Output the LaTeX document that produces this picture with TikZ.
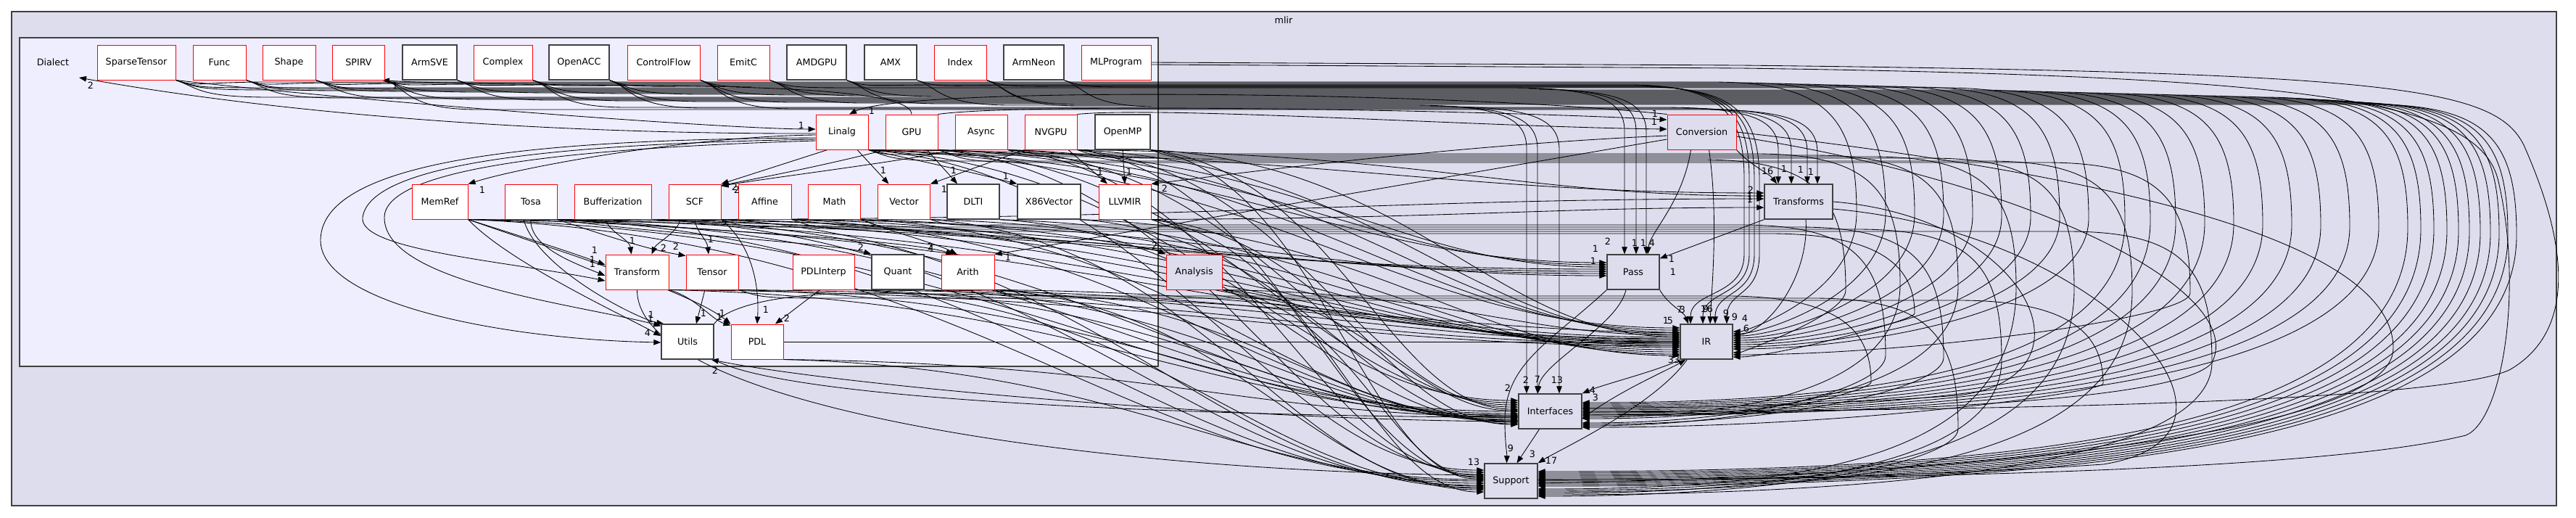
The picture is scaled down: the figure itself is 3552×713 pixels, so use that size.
\documentclass[tikz,border=0pt]{standalone}
\usepackage{fontspec}
\setmainfont{DejaVu Sans}
\usetikzlibrary{arrows.meta}
\definecolor{outerfill}{HTML}{DDDDEE}
\definecolor{innerfill}{HTML}{EEEEFF}
\definecolor{clline}{HTML}{404040}
\newcommand\dxfont{\fontsize{12.7}{15}\selectfont}
\pgfdeclarelayer{bglayer}
\pgfdeclarelayer{edgelayer}
\pgfsetlayers{bglayer,edgelayer,main}
\begin{document}
\begin{tikzpicture}[x=1pt,y=-1pt,
 cluster/.style={draw=clline, line width=1.4pt, inner sep=0pt},
 box/.style={draw, line width=1.4pt, minimum height=48pt, inner sep=0pt, fill=white, font=\dxfont},
 rbox/.style={box, draw=red, line width=1pt},
 kbox/.style={box, draw=clline},
 lav/.style={fill=outerfill},
 e/.style={draw=black, line width=0.85pt, -{Triangle[length=10pt,width=7.5pt]}},
 lab/.style={font=\dxfont, inner sep=0pt},
]
\useasboundingbox (0,0) rectangle (3552,713);
\begin{pgfonlayer}{bglayer}
\fill[white] (0,0) rectangle (3552,713);
\node[cluster, fill=outerfill, minimum width=3509pt, minimum height=681pt] (mlirc) at (1770.5,356.5) {};
\node[cluster, fill=innerfill, minimum width=1570pt, minimum height=453pt] (dialc) at (812,278.5) {};
\end{pgfonlayer}
\node[lab] (mlirlabel) at (1770,28) {mlir};
\node[lab] (dialectlabel) at (73,86) {Dialect};
\coordinate (dialectin) at (109,107);
% row 1
\node[rbox, minimum width=108pt] (SparseTensor) at (188,86) {SparseTensor};
\node[rbox, minimum width=73pt] (Func) at (302.5,86) {Func};
\node[rbox, minimum width=73pt] (Shape) at (398.5,86) {Shape};
\node[rbox, minimum width=72pt] (SPIRV) at (494.5,86) {SPIRV};
\node[kbox, minimum width=75pt] (ArmSVE) at (592.5,86) {ArmSVE};
\node[rbox, minimum width=81pt] (Complex) at (693.5,86) {Complex};
\node[kbox, minimum width=83pt] (OpenACC) at (798.5,86) {OpenACC};
\node[rbox, minimum width=100pt] (ControlFlow) at (915,86) {ControlFlow};
\node[rbox, minimum width=72pt] (EmitC) at (1025,86) {EmitC};
\node[kbox, minimum width=82pt] (AMDGPU) at (1126,86) {AMDGPU};
\node[kbox, minimum width=72pt] (AMX) at (1228,86) {AMX};
\node[rbox, minimum width=72pt] (Index) at (1324,86) {Index};
\node[kbox, minimum width=83pt] (ArmNeon) at (1425.5,86) {ArmNeon};
\node[rbox, minimum width=96pt] (MLProgram) at (1539,86) {MLProgram};
% row 2
\node[rbox, minimum width=72pt] (Linalg) at (1161,182) {Linalg};
\node[rbox, minimum width=72pt] (GPU) at (1257,182) {GPU};
\node[rbox, minimum width=72pt] (Async) at (1353,182) {Async};
\node[rbox, minimum width=72pt] (NVGPU) at (1449,182) {NVGPU};
\node[kbox, minimum width=76pt] (OpenMP) at (1548,182) {OpenMP};
\node[rbox, lav, minimum width=95pt] (Conversion) at (2346.5,182) {Conversion};
% row 3
\node[rbox, minimum width=77pt] (MemRef) at (606.5,278) {MemRef};
\node[rbox, minimum width=72pt] (Tosa) at (732,278) {Tosa};
\node[rbox, minimum width=106pt] (Bufferization) at (845,278) {Bufferization};
\node[rbox, minimum width=72pt] (SCF) at (958,278) {SCF};
\node[rbox, minimum width=73pt] (Affine) at (1054.5,278) {Affine};
\node[rbox, minimum width=72pt] (Math) at (1150.5,278) {Math};
\node[rbox, minimum width=72pt] (Vector) at (1246.5,278) {Vector};
\node[kbox, minimum width=72pt] (DLTI) at (1342,278) {DLTI};
\node[kbox, minimum width=87pt] (X86Vector) at (1446.5,278) {X86Vector};
\node[rbox, minimum width=72pt] (LLVMIR) at (1551,278) {LLVMIR};
\node[kbox, lav, minimum width=94pt] (Transforms) at (2480,278) {Transforms};
% row 4
\node[rbox, minimum width=87pt] (Transform) at (878.5,375) {Transform};
\node[rbox, minimum width=72pt] (Tensor) at (982,375) {Tensor};
\node[rbox, minimum width=85pt] (PDLInterp) at (1135.5,375) {PDLInterp};
\node[kbox, minimum width=72pt] (Quant) at (1238,375) {Quant};
\node[rbox, minimum width=73pt] (Arith) at (1334.5,375) {Arith};
\node[rbox, lav, minimum width=77pt] (Analysis) at (1646.5,375) {Analysis};
\node[kbox, lav, minimum width=72pt] (Pass) at (2252,375) {Pass};
% row 5
\node[kbox, minimum width=72pt] (Utils) at (948,471) {Utils};
\node[rbox, minimum width=72pt] (PDL) at (1044,471) {PDL};
\node[kbox, lav, minimum width=72pt] (IR) at (2353,471) {IR};
\node[kbox, lav, minimum width=87pt] (Interfaces) at (2137.5,567) {Interfaces};
\node[kbox, lav, minimum width=73pt] (Support) at (2083.5,663) {Support};

\begin{pgfonlayer}{edgelayer}
% row-1 (and mid bundles) to right sides
\foreach \S/\sr/\yb/\X/\T/\cy/\ty in {
SparseTensor/242/113/2560/IR/471/457, Func/339/114/2600/IR/471/460, Shape/435/115/2640/IR/471/463,
SPIRV/530/116/2680/IR/471/466, ArmSVE/630/117/2720/IR/471/469, Complex/734/118/2760/IR/471/472,
OpenACC/840/119/2800/IR/471/475, ControlFlow/965/120/2840/IR/471/478, EmitC/1061/121/2880/IR/471/481,
SparseTensor/242/124/2930/Interfaces/567/555, Func/339/125/2965/Interfaces/567/557,
Shape/435/126/3000/Interfaces/567/559, SPIRV/530/127/3040/Interfaces/567/561,
ArmSVE/630/128/3080/Interfaces/567/563, Complex/734/129/3120/Interfaces/567/565,
OpenACC/840/130/3160/Interfaces/567/567, ControlFlow/965/131/3200/Interfaces/567/569,
EmitC/1061/132/3240/Interfaces/567/571, AMDGPU/1167/133/3280/Interfaces/567/573,
SparseTensor/242/134/3320/Support/663/650, Func/339/135/3338/Support/663/652,
Shape/435/136/3356/Support/663/654, SPIRV/530/137/3374/Support/663/656,
ArmSVE/630/138/3390/Support/663/658, Complex/734/139/3405/Support/663/660,
OpenACC/840/140/3420/Support/663/662, ControlFlow/965/141/3434/Support/663/664,
EmitC/1061/142/3446/Support/663/666, AMDGPU/1167/143/3458/Support/663/668,
Index/1360/144/3470/Support/663/670,
Linalg/1197/212/2620/Interfaces/567/575, GPU/1293/214/2700/Interfaces/567/577,
Async/1389/216/2780/Support/663/674, NVGPU/1485/218/2860/Support/663/676,
OpenMP/1586/220/2545/IR/471/486, Linalg/1197/222/2940/Support/663/678,
GPU/1293/224/3020/IR/471/489, Vector/1282/310/2600/Interfaces/567/583,
SCF/994/313/2680/Interfaces/567/585, Affine/1091/316/2760/Support/663/680,
Math/1187/319/3050/Support/663/682, LLVMIR/1587/322/2640/IR/471/492,
Arith/1371/408/2580/Interfaces/567/587, Tensor/1018/411/2700/Support/663/684,
Analysis/1685/414/2900/Interfaces/567/589}
 \draw[e] (\S.south east) .. controls +(30,10) and +(-100,0) .. (\sr+130,\yb) -- (\X-200,\yb)
   .. controls (\X-40,\yb) and (\X,\yb+50) .. (\X,{min(\yb+180,\ty-60)})
   .. controls (\X,\ty-50) and ({(\X+2250)/2},\ty) .. ([yshift={\cy-\ty}]\T.east);
% row-1 to tops of Interfaces, Pass, Transforms
\foreach \S/\sr/\yb/\X/\T/\tcx in {
AMX/1264/145/2105/Interfaces/2137.5, Index/1360/146/2120/Interfaces/2137.5, ArmNeon/1467/147/2150/Interfaces/2137.5,
SparseTensor/242/121/2240/Pass/2252, Func/339/122/2256/Pass/2252, Shape/435/123/2270/Pass/2252,
Complex/734/148/2452/Transforms/2480, OpenACC/840/149/2470/Transforms/2480,
ControlFlow/965/150/2492/Transforms/2480, SPIRV/530/151/2506/Transforms/2480}
 \draw[e] (\S.south east) .. controls +(30,10) and +(-100,0) .. (\sr+130,\yb) -- (\X-160,\yb)
   .. controls (\X-30,\yb) and (\X,\yb+20) .. (\X,\yb+60) -- ([xshift={\X-\tcx}]\T.north);
% row-1 to IR top
\foreach \S/\sr/\yb/\X/\dx in {AMDGPU/1167/117/2405/-22, AMX/1264/118/2412/-5, Index/1360/119/2419/12, ArmNeon/1467/120/2426/28}
 \draw[e] (\S.south east) .. controls +(30,10) and +(-100,0) .. (\sr+130,\yb) -- (\X-160,\yb)
   .. controls (\X-30,\yb) and (\X,\yb+40) .. (\X,\yb+130) -- (\X,350)
   .. controls (\X,410) and ({2353+\dx},400) .. ([xshift=\dx]IR.north);
% S-curves to west sides
\foreach \S/\sa/\sx/\sy/\T/\tx/\cy/\ty in {
Linalg/south east/1197/206/Pass/2216/375/362, Linalg/south east/1197/206/IR/2317/471/452,
Linalg/south east/1197/206/Interfaces/2094/567/552, Linalg/south east/1197/206/Support/2047/663/648,
Linalg/south east/1197/206/Transforms/2433/278/266,
GPU/south east/1293/206/Pass/2216/375/365, GPU/south east/1293/206/IR/2317/471/455,
GPU/south east/1293/206/Interfaces/2094/567/555, GPU/south east/1293/206/Support/2047/663/651,
Async/south east/1389/206/Pass/2216/375/368, Async/south east/1389/206/IR/2317/471/458,
Async/south east/1389/206/Interfaces/2094/567/558, Async/south east/1389/206/Support/2047/663/654,
NVGPU/south east/1485/206/IR/2317/471/461, NVGPU/south east/1485/206/Interfaces/2094/567/561,
NVGPU/south east/1485/206/Support/2047/663/657, NVGPU/south east/1485/206/Transforms/2433/278/270,
OpenMP/south east/1586/206/IR/2317/471/464, OpenMP/south east/1586/206/Interfaces/2094/567/564,
OpenMP/south east/1586/206/Support/2047/663/660,
MemRef/south east/645/302/Pass/2216/375/371, MemRef/south east/645/302/IR/2317/471/467,
MemRef/south east/645/302/Interfaces/2094/567/567, MemRef/south east/645/302/Support/2047/663/663,
Tosa/south east/768/302/Pass/2216/375/374, Tosa/south east/768/302/IR/2317/471/470,
Tosa/south east/768/302/Interfaces/2094/567/570, Tosa/south east/768/302/Support/2047/663/666,
Bufferization/south east/898/302/Pass/2216/375/377, Bufferization/south east/898/302/IR/2317/471/473,
Bufferization/south east/898/302/Interfaces/2094/567/573, Bufferization/south east/898/302/Support/2047/663/669,
SCF/south east/994/302/IR/2317/471/476, SCF/south east/994/302/Support/2047/663/672,
SCF/south east/994/302/Transforms/2433/278/274,
Affine/south east/1091/302/Pass/2216/375/380, Affine/south east/1091/302/IR/2317/471/479,
Affine/south east/1091/302/Interfaces/2094/567/576,
Math/south east/1187/302/IR/2317/471/482, Math/south east/1187/302/Interfaces/2094/567/579,
Vector/south east/1282/302/IR/2317/471/485, Vector/south east/1282/302/Support/2047/663/675,
DLTI/south east/1378/302/IR/2317/471/488, DLTI/south east/1378/302/Interfaces/2094/567/582,
X86Vector/south east/1490/302/IR/2317/471/490, X86Vector/south east/1490/302/Interfaces/2094/567/584,
LLVMIR/south east/1587/302/Interfaces/2094/567/585, LLVMIR/south east/1587/302/Support/2047/663/678,
LLVMIR/south east/1587/302/Transforms/2433/278/286,
Transform/south east/922/399/IR/2317/471/477, Transform/south east/922/399/Interfaces/2094/567/572,
Tensor/south east/1018/399/IR/2317/471/474, Tensor/south east/1018/399/Interfaces/2094/567/575,
PDLInterp/south east/1178/399/IR/2317/471/471, PDLInterp/south east/1178/399/Interfaces/2094/567/578,
PDLInterp/south east/1178/399/Support/2047/663/670,
Quant/south east/1274/399/IR/2317/471/468, Quant/south east/1274/399/Interfaces/2094/567/580,
Arith/south east/1371/399/IR/2317/471/465, Arith/south east/1371/399/Interfaces/2094/567/581,
Arith/south east/1371/399/Support/2047/663/673,
Analysis/south east/1685/399/IR/2317/471/462, Analysis/south east/1685/399/Interfaces/2094/567/566,
Analysis/south east/1685/399/Support/2047/663/658,
PDL/south east/1080/495/Interfaces/2094/567/574, PDL/south east/1080/495/Support/2047/663/661}
 \draw[e] (\S.\sa) .. controls ({\sx+0.5*(\tx-\sx)},{\sy+0.08*(\ty-\sy)}) and ({\tx-0.35*(\tx-\sx)},\ty) .. ([yshift={\cy-\ty}]\T.west);
% MLProgram long edges
\draw[e] (MLProgram.east) -- (2400,90) .. controls (3300,100) and (3440,120) .. (3480,200)
   .. controls (3560,380) and (3530,470) .. (3460,510) .. controls (3350,560) and (2600,566) .. ([yshift=-1pt]Interfaces.east);
\draw[e] ([yshift=-3pt]MLProgram.east) -- (2400,94) .. controls (3200,105) and (3420,140) .. (3445,250)
   .. controls (3480,400) and (3450,580) .. (3400,600) .. controls (3200,650) and (2600,660) .. ([yshift=1pt]Support.east);
% around-left and internal Dialect edges
\draw[e] (SparseTensor.south east) .. controls (500,140) and (1000,178) .. ([yshift=4pt]Linalg.west);
\draw[e] ([yshift=-2pt]Linalg.west) .. controls (700,185) and (350,150) .. (dialectin);
\draw[e] (GPU.north) .. controls (1257,128) and (1100,120) .. (900,118) .. controls (650,116) and (560,113) .. ([xshift=-4pt]SPIRV.south east);
\draw[e] (Conversion.north west) .. controls (2000,126) and (1250,118) .. ([xshift=10pt]Linalg.north);
\draw[e] ([yshift=-4pt]Linalg.west) .. controls (950,188) and (720,230) .. (MemRef.north east);
\draw[e] ([yshift=-8pt]Linalg.west) .. controls (800,192) and (445,210) .. (442,330) .. controls (440,420) and (700,468) .. ([yshift=-1pt]Utils.west);
\draw[e] ([yshift=-10pt]Linalg.west) .. controls (800,198) and (510,220) .. (500,300) .. controls (495,345) and (700,360) .. ([yshift=-12pt]Transform.west);
\draw[e] ([yshift=-12pt]Linalg.west) .. controls (760,205) and (530,235) .. (530,300) .. controls (530,390) and (800,420) .. ([yshift=-3pt]Utils.north west);
\draw[e] ([xshift=-20pt]Linalg.south) -- (SCF.north east);
\draw[e] (GPU.south west) .. controls (1150,225) and (1050,245) .. ([yshift=-2pt]SCF.north east);
\draw[e] (Async.south west) .. controls (1250,222) and (1060,245) .. ([yshift=-3pt]SCF.north east);
\draw[e] ([xshift=21pt]Linalg.south) -- ([xshift=-21pt]Vector.north);
\draw[e] ([xshift=21pt]GPU.south) -- ([xshift=-22pt]DLTI.north);
\draw[e] (NVGPU.south west) -- (Vector.north east);
\draw[e] (Linalg.south east) .. controls (1300,228) and (1370,245) .. (X86Vector.north west);
\draw[e] ([xshift=24pt]NVGPU.south) -- ([xshift=-24pt]LLVMIR.north);
\draw[e] (OpenMP.south) -- (LLVMIR.north);
\draw[e] (GPU.north east) .. controls (1400,142) and (2000,150) .. ([yshift=17pt]Conversion.west);
\draw[e] (NVGPU.north east) .. controls (1600,146) and (2050,175) .. ([yshift=4pt]Conversion.west);
\draw[e] ([yshift=-5pt]Conversion.west) .. controls (2000,200) and (1700,240) .. (LLVMIR.north east);
\draw[e] ([yshift=-10pt]Conversion.west) .. controls (1900,260) and (1500,330) .. (Arith.north east);
\draw[e] (MemRef.south east) .. controls (700,320) and (780,345) .. ([yshift=10pt]Transform.west);
\draw[e] (MemRef.south east) .. controls (700,360) and (850,430) .. ([yshift=8pt]Utils.west);
\draw[e] (MemRef.south east) .. controls (750,340) and (950,400) .. (PDL.north west);
\draw[e] (Tosa.south) .. controls (730,340) and (790,362) .. ([yshift=-5pt]Transform.west);
\draw[e] (Tosa.south east) .. controls (850,330) and (900,345) .. ([yshift=-2pt]Tensor.north west);
\draw[e] (Tosa.south east) .. controls (900,322) and (1150,335) .. (Quant.north west);
\draw[e] (Tosa.south east) .. controls (950,316) and (1250,330) .. ([xshift=-20pt]Arith.north);
\draw[e] ([xshift=-10pt]Tosa.south) .. controls (740,370) and (880,440) .. ([xshift=4pt]Utils.north west);
\draw[e] ([xshift=-10pt]Bufferization.south) .. controls (840,320) and (868,330) .. ([xshift=-8pt]Transform.north);
\draw[e] ([xshift=-20pt]SCF.south) .. controls (935,320) and (905,335) .. ([xshift=20pt]Transform.north);
\draw[e] (SCF.south) .. controls (960,320) and (975,330) .. ([xshift=-5pt]Tensor.north);
\draw[e] (SCF.south east) .. controls (1040,340) and (1047,400) .. (PDL.north);
\draw[e] (Transform.south east) .. controls (960,410) and (980,440) .. ([yshift=-2pt]PDL.north west);
\draw[e] ([xshift=-10pt]Tensor.south) -- ([xshift=12pt]Utils.north);
\draw[e] ([xshift=-5pt]PDLInterp.south) -- ([xshift=25pt]PDL.north);
\draw[e] (Math.south east) .. controls (1230,320) and (1290,335) .. ([xshift=-15pt]Arith.north);
\draw[e] (Affine.south east) .. controls (1300,330) and (1560,330) .. (Analysis.north west);
\draw[e] (Transform.south) .. controls (878,560) and (1500,650) .. ([yshift=8pt]Support.west);
\draw[e] (Utils.north east) .. controls (1000,425) and (1060,408) .. (1150,405) .. controls (1700,400) and (2000,455) .. ([yshift=12pt]IR.west);
\draw[e] (Utils.south east) .. controls (1100,560) and (1800,575) .. ([yshift=-8pt]Interfaces.west);
\draw[e] ([yshift=-14pt]Interfaces.west) .. controls (1700,580) and (1150,530) .. ([xshift=-4pt]Utils.south east);
\draw[e] (PDL.east) -- (IR.west);
% core edges
\draw[e] ([xshift=-15pt]Conversion.south) .. controls (2320,280) and (2275,320) .. ([xshift=20pt]Pass.north);
\draw[e] ([xshift=10pt]Conversion.south) .. controls (2370,300) and (2360,400) .. ([xshift=5pt]IR.north);
\draw[e] (Conversion.south east) .. controls (2410,225) and (2440,240) .. ([xshift=-30pt]Transforms.north);
\draw[e] (Conversion.east) .. controls (2900,240) and (3300,330) .. (3300,480) .. controls (3300,600) and (2700,655) .. ([yshift=-3pt]Support.east);
\draw[e] ([yshift=-6pt]Conversion.east) .. controls (2800,250) and (3100,400) .. (3050,500) .. controls (3000,560) and (2500,570) .. ([yshift=-5pt]Interfaces.east);
\draw[e] (Transforms.south west) -- ([yshift=-6pt]Pass.north east);
\draw[e] ([xshift=10pt]Transforms.south) .. controls (2495,380) and (2440,455) .. ([yshift=8pt]IR.east);
\draw[e] (Transforms.east) .. controls (2800,300) and (2900,520) .. (2700,545) .. controls (2500,560) and (2300,562) .. ([yshift=4pt]Interfaces.east);
\draw[e] ([yshift=-10pt]Transforms.east) .. controls (2900,320) and (3150,600) .. (2900,640) .. controls (2600,660) and (2300,662) .. ([yshift=2pt]Support.east);
\draw[e] (Pass.south east) .. controls (2300,420) and (2322,430) .. ([xshift=-25pt]IR.north);
\draw[e] (Pass.south west) .. controls (2140,470) and (2075,500) .. (2075,580) .. controls (2075,610) and (2078,625) .. ([xshift=-6pt]Support.north);
\draw[e] ([xshift=-10pt]Pass.south) .. controls (2230,450) and (2125,500) .. ([xshift=-17pt]Interfaces.north);
\draw[e] (IR.south west) .. controls (2290,510) and (2210,530) .. (Interfaces.north east);
\draw[e] ([yshift=-10pt]Interfaces.east) .. controls (2230,540) and (2300,510) .. ([xshift=8pt]IR.south west);
\draw[e] ([xshift=10pt]IR.south west) .. controls (2280,560) and (2150,620) .. (Support.north east);
\draw[e] ([xshift=-15pt]Interfaces.south) -- ([xshift=8pt]Support.north);
\end{pgfonlayer}
% edge labels
\foreach \t/\x/\y [count=\i] in {
2/125/118, 1/545/118, 1/1202/153, 1/1105/173, 1/665/262, 2/1013/258, 2/1016/262,
1/1218/235, 1/1315/235, 1/1302/261, 1/1387/243, 1/1517/237, 1/1557/237, 2/1606/260,
1/872/332, 2/915/342, 1/820/345, 1/817/358, 1/817/364, 1/980/330, 2/932/340,
1/898/434, 1/897/440, 4/893/459, 1/970/432, 1/992/437, 1/996/432, 1/1056/427, 2/1085/439,
2/986/511, 2/1187/341, 2/1283/340, 1/1285/343, 1/1390/355, 2/1592/339,
1/2282/157, 1/2281/168, 16/2437/236, 1/2460/233, 1/2483/234, 1/2497/237,
2/2414/262, 1/2413/271, 1/2413/275,
1/2200/343, 2/2217/333, 1/2197/360, 1/2254/335, 1/2266/335, 4/2278/335, 1/2305/357, 1/2307/375,
7/2316/427, 3/2320/427, 1/2349/426, 9/2352/426, 6/2358/426, 9/2380/432, 9/2392/437, 4/2406/439,
1/2297/442, 5/2303/442, 6/2408/453, 33/2308/496,
2/2079/535, 2/2104/524, 7/2120/523, 1/2143/524, 3/2151/524, 4/2196/538, 3/2200/548,
13/2032/637, 9/2083/618, 3/2113/626, 17/2139/635}
 \node[lab] (elab\i) at (\x,\y) {\t};
\end{tikzpicture}
\end{document}
